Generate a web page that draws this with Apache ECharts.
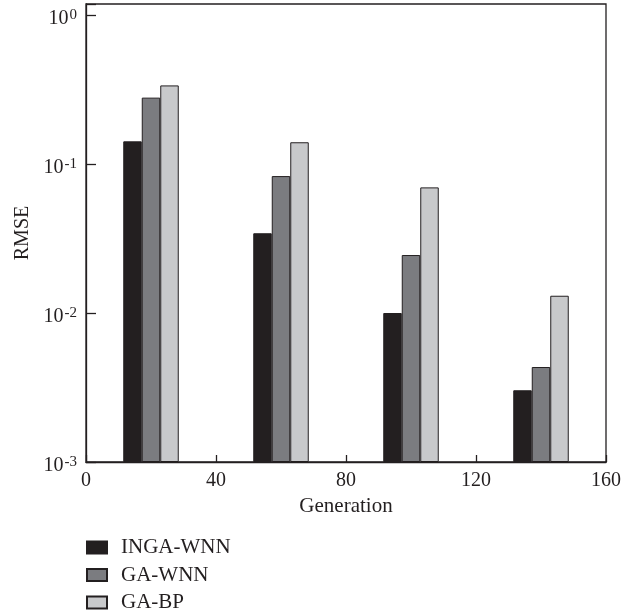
<!DOCTYPE html>
<html>
<head>
<meta charset="utf-8">
<script src="https://cdn.jsdelivr.net/npm/echarts@6/dist/echarts.min.js"></script>
<style>
html,body{margin:0;padding:0;background:#fff;}
#chart{width:639px;height:616px;}
</style>
</head>
<body>
<div id="chart"></div>
<script>
var generations = [20, 60, 100, 140];
var seriesNames = ['INGA-WNN', 'GA-WNN', 'GA-BP'];
var ingaWnn = [0.142, 0.0343, 0.0100, 0.00303];
var gaWnn = [0.279, 0.083, 0.0245, 0.00434];
var gaBp = [0.337, 0.140, 0.0697, 0.01306];
var xTicks = [0, 40, 80, 120, 160];

var colors = ['#231f20', '#7b7c80', '#c8c9cb'];
var font = '"Liberation Serif", "DejaVu Serif", serif';
var ink = '#231f20';

function pairs(vals) {
  return generations.map(function (g, i) { return [g, vals[i]]; });
}
var allVals = [ingaWnn, gaWnn, gaBp];

var chart = echarts.init(document.getElementById('chart'), null, {renderer: 'canvas'});
chart.setOption({
  animation: false,
  backgroundColor: '#fff',
  textStyle: {fontFamily: font, color: ink},
  grid: {left: 86, right: 33, top: 4, bottom: 154, show: true, borderColor: ink, borderWidth: 1.3, backgroundColor: 'transparent'},
  legend: {
    orient: 'vertical', left: 86, top: 537, padding: 0,
    itemWidth: 20, itemHeight: 12, itemGap: 6.5, icon: 'rect',
    textStyle: {fontFamily: font, fontSize: 21, color: ink, padding: [0, 0, 0, 9]},
    data: seriesNames
  },
  xAxis: {
    type: 'value', min: xTicks[0], max: xTicks[xTicks.length - 1], interval: 40,
    name: 'Generation', nameLocation: 'middle', nameGap: 33,
    nameTextStyle: {fontFamily: font, fontSize: 21, color: ink},
    axisLine: {show: true, lineStyle: {color: ink, width: 1.3}},
    axisTick: {show: true, inside: true, length: 7, lineStyle: {color: ink, width: 1.3}},
    axisLabel: {fontFamily: font, fontSize: 20, color: ink, margin: 9},
    splitLine: {show: false}
  },
  yAxis: {
    type: 'log', logBase: 10, min: 0.001, max: 1.186, startValue: 0.001,
    name: 'RMSE', nameLocation: 'middle', nameGap: 52, nameRotate: 90,
    nameTextStyle: {fontFamily: font, fontSize: 20, color: ink},
    axisLine: {show: true, lineStyle: {color: ink, width: 1.3}},
    axisTick: {show: true, inside: true, length: 10, lineStyle: {color: ink, width: 1.3}},
    minorTick: {show: false},
    splitLine: {show: false},
    axisLabel: {
      margin: 9,
      padding: [8, 0, 0, 0],
      formatter: function (v) {
        var e = Math.log10(v);
        var r = Math.round(e);
        if (Math.abs(e - r) > 1e-6) return '';
        return '{b|10}{s|' + r + '}';
      },
      rich: {
        b: {fontFamily: font, fontSize: 20, color: ink},
        s: {fontFamily: font, fontSize: 15, color: ink, padding: [0, 0, 8, 1]}
      }
    }
  },
  series: seriesNames.map(function (n, i) {
    return {
      name: n, type: 'bar', data: pairs(allVals[i]),
      barWidth: 18.5, barGap: '0%',
      itemStyle: {color: colors[i], borderColor: ink, borderWidth: 1}
    };
  })
});
</script>
</body>
</html>
